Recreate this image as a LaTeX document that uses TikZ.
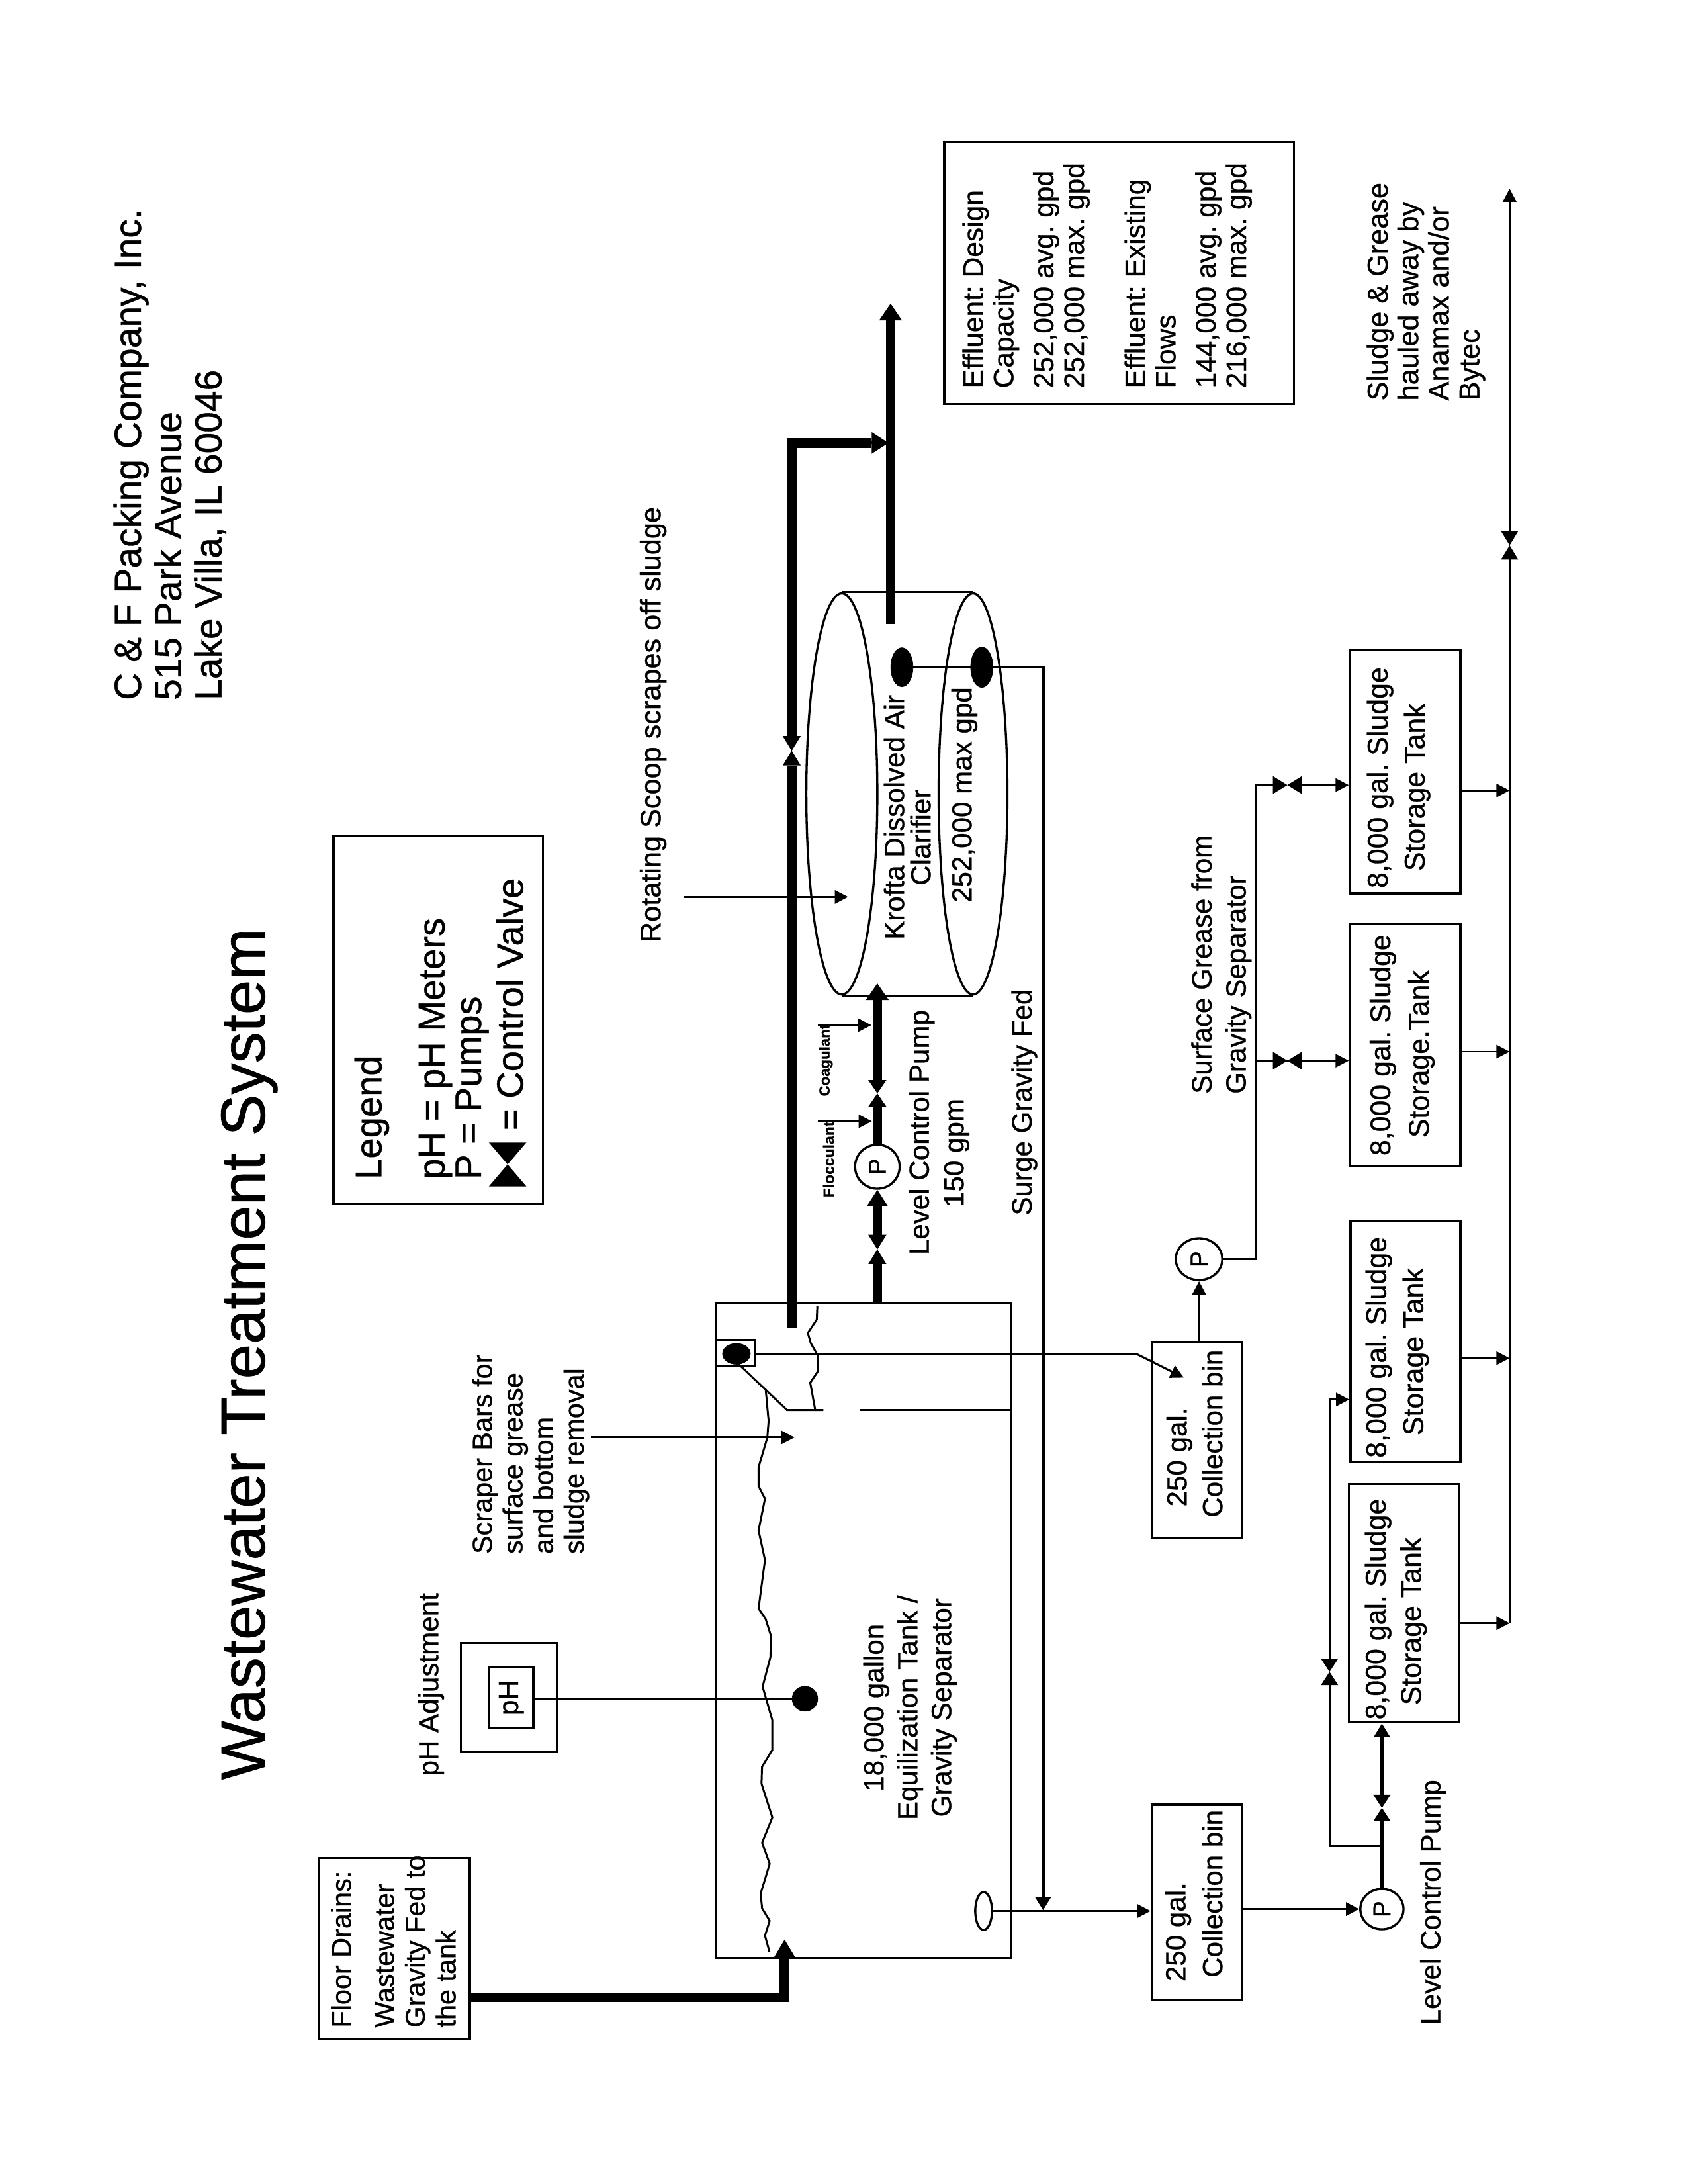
\documentclass[tikz,border=0pt]{standalone}
\usepackage{fontspec}
\setmainfont[FakeBold=0.7]{Liberation Sans}
\usetikzlibrary{arrows.meta,shapes.geometric}
\newcommand{\boxnode}[5]{\node[boxshape,minimum width={(#4-#2)*0.02cm},minimum height={(#5-#3)*0.02cm}] (#1) at ({(#2+#4)/2},{(#3+#5)/2}) {};}
\newcommand{\blobnode}[5]{\node[blobshape,minimum width={2*#4*0.02cm},minimum height={2*#5*0.02cm}] (#1) at (#2,#3) {};}
\newcommand{\ovalnode}[5]{\node[ovalshape,minimum width={2*#4*0.02cm},minimum height={2*#5*0.02cm}] (#1) at (#2,#3) {};}
\newcommand{\pumpnode}[5]{\node[ovalshape,fill=white,minimum width={2*#4*0.02cm},minimum height={2*#5*0.02cm},font=\fontsize{10}{12}\selectfont] (#1) at (#2,#3) {\rotatebox{90}{P}};}
\newcommand{\valveV}[4]{\fill[white] (#1-#3-1,#2-#4) rectangle (#1+#3+1,#2+#4);\fill[black] (#1-#3,#2-#4) -- (#1+#3,#2-#4) -- (#1-#3,#2+#4) -- (#1+#3,#2+#4) -- cycle;}
\newcommand{\valveH}[4]{\fill[black] (#1-#3,#2-#4) -- (#1-#3,#2+#4) -- (#1+#3,#2-#4) -- (#1+#3,#2+#4) -- cycle;}
\tikzset{
  boxshape/.style={draw,rectangle,line width=0.9pt,inner sep=0pt},
  blobshape/.style={draw,fill=black,ellipse,inner sep=0pt,line width=0.2pt},
  ovalshape/.style={draw,ellipse,inner sep=0pt,line width=0.9pt},
  lbl/.style={rotate=90,inner sep=0pt,anchor=west,align=left,font=\fontsize{11.4}{13}\selectfont},
  tlbl/.style={lbl,font=\fontsize{11.6}{13}\selectfont},
  clbl/.style={rotate=90,inner sep=0pt,anchor=center,align=center,font=\fontsize{11.4}{13.8}\selectfont},
  pipe/.style={line width=0.8pt,line join=miter},
  flow/.style={pipe,-{Triangle[length=1.9mm,width=1.9mm]}},
  heavy/.style={line width=4pt,line cap=butt,line join=miter}
}
\begin{document}
\frenchspacing
\begin{tikzpicture}[x=0.02cm,y=-0.02cm]
\useasboundingbox (0,0) rectangle (1211.7,1568);
\fill[white] (0,0) rectangle (1211.7,1568);

% titles
\node[lbl,font=\fontsize{15.4}{16.45}\selectfont] (company) at (122,503) {C \& F Packing Company, Inc.\\515 Park Avenue\\Lake Villa, IL 60046};
\node[rotate=90,inner sep=0pt,font=\fontsize{25.5}{28}\selectfont] (title) at (179,972) {Wastewater Treatment System};

% legend
\boxnode{legend}{239.5}{600}{390}{864}
\node[lbl,font=\fontsize{15.2}{17}\selectfont] (lg1) at (267,847) {Legend};
\node[lbl,font=\fontsize{15.2}{17}\selectfont] (lg2) at (312.7,847) {pH = pH Meters};
\node[lbl,font=\fontsize{15.2}{17}\selectfont] (lg3) at (339,847) {P = Pumps};
\node[lbl,font=\fontsize{15.2}{17}\selectfont] (lg4) at (366,812) {= Control Valve};
\valveV{364.5}{836}{13.4}{15.7}

% floor drains
\boxnode{floor}{229}{1334}{337.4}{1463.7}
\node[lbl,font=\fontsize{11.2}{12.6}\selectfont] (floortxt) at (282.5,1456) {Floor Drains:\\[5pt]Wastewater\\Gravity Fed to\\the tank};

% pH
\node[lbl] (phadj) at (309.5,1275.4) {pH Adjustment};
\boxnode{phout}{330.9}{1179.6}{399.7}{1257.9}
\node[boxshape,minimum width={31.5*0.02cm},minimum height={43.7*0.02cm},font=\fontsize{11.4}{13}\selectfont] (phin) at (367.2,1218.8) {\rotatebox{90}{pH}};
\blobnode{phdot}{578}{1219.6}{9.2}{9}

% scraper text
\node[lbl,font=\fontsize{11.2}{12.5}\selectfont] (scraper) at (381,1116) {Scraper Bars for\\surface grease\\and bottom\\sludge removal};
\coordinate (scrstart) at (424.5,1032);
\coordinate (scrend) at (570.5,1032);
\node[lbl,font=\fontsize{11.7}{13}\selectfont] (rotating) at (469,677) {Rotating Scoop scrapes off sludge};
\coordinate (scoopstart) at (491,644);
\coordinate (scoopend) at (609,644);

% tank
\boxnode{tank}{514}{935.2}{726}{1405.7}
\node[clbl] (tanktxt) at (653.5,1226) {18,000 gallon\\Equilization Tank /\\Gravity Separator};
\boxnode{scrapbox}{514}{962}{542}{980.6}
\blobnode{tankdot}{528.8}{972}{10}{7.5}
\ovalnode{outlet}{706.3}{1372}{6}{13.6}

% clarifier
\ovalnode{cla}{604.5}{570}{25.5}{144}
\ovalnode{clb}{698.7}{570}{24.7}{144}
\draw[pipe] (cla.north) -- (clb.north);
\draw[pipe] (cla.south) -- (clb.south);
\node[lbl] (kro1) at (642,675) {Krofta Dissolved Air};
\node[lbl] (kro2) at (661,636) {Clarifier};
\node[lbl] (kro3) at (692.5,648.4) {252,000 max gpd};
\blobnode{cldot1}{647.6}{479}{8}{14}
\blobnode{cldot2}{705}{479}{8}{14.5}

% clarifier feed
\pumpnode{pfeed}{630}{837.6}{16}{15.8}
\node[lbl] (lcp1) at (661.8,901.3) {Level Control Pump};
\node[lbl] (lcp2) at (687,867) {150 gpm};
\node[lbl] (surge) at (735.5,873) {Surge Gravity Fed};
\node[lbl,font=\fontsize{6}{7}\bfseries] (coag) at (593,787.4) {Coagulant};
\node[lbl,font=\fontsize{6.2}{7}\bfseries] (floc) at (595,860) {Flocculant};

% bins
\boxnode{bin1}{827}{963.3}{891.5}{1104}
\node[lbl] (bin1a) at (846.9,1082) {250 gal.};
\node[lbl] (bin1b) at (870.5,1089.7) {Collection bin};
\boxnode{bin2}{827}{1295.7}{892}{1436}
\node[lbl] (bin2a) at (846,1423) {250 gal.};
\node[lbl] (bin2b) at (870.5,1420) {Collection bin};
\pumpnode{pgrease}{861}{904}{16.7}{15}
\pumpnode{plow}{992.3}{1370.6}{15.5}{14.5}
\node[lbl] (lcp3) at (1029,1454) {Level Control Pump};
\node[lbl,font=\fontsize{11.4}{14}\selectfont] (sg) at (877,785.7) {Surface Grease from\\Gravity Separator};

% storage tanks
\boxnode{t1}{969.3}{466.4}{1048.7}{641.5}
\boxnode{t2}{969.3}{663}{1048.7}{837.2}
\boxnode{t3}{969.7}{876.3}{1048.7}{1049.4}
\boxnode{t4}{968.7}{1065.4}{1047.4}{1236.6}
\node[tlbl] (t1a) at (991,638) {8,000 gal. Sludge};
\node[tlbl] (t1b) at (1017.6,625.7) {Storage Tank};
\node[tlbl] (t2a) at (993,830) {8,000 gal. Sludge};
\node[tlbl] (t2b) at (1020.6,817.2) {Storage.Tank};
\node[tlbl] (t3a) at (990,1047) {8,000 gal. Sludge};
\node[tlbl] (t3b) at (1016.6,1031) {Storage Tank};
\node[tlbl] (t4a) at (989.6,1235) {8,000 gal. Sludge};
\node[tlbl] (t4b) at (1015,1224.5) {Storage Tank};

% effluent box and haul text
\boxnode{eff}{678}{102}{929}{290}
\node[lbl,font=\fontsize{11.5}{12.47}\selectfont] (efftxt) at (795,279) {Effluent: Design\\Capacity\\[3.9pt]252,000 avg. gpd\\252,000 max. gpd\\[12.5pt]Effluent: Existing\\Flows\\[3.9pt]144,000 avg. gpd\\216,000 max. gpd};
\node[lbl,font=\fontsize{11.7}{12.5}\selectfont] (haul) at (1024,288) {Sludge \& Grease\\hauled away by\\Anamax and/or\\Bytec};

% water surface
\draw[pipe,line join=round] (549.8,997.3) -- (551.9,1020) -- (551,1032.1) -- (544.7,1053.3) -- (544.7,1067) -- (549.3,1076) -- (544.7,1098.8) -- (549.3,1120) -- (544.7,1154.8) -- (549.8,1162.4) -- (553.6,1174.5) -- (553.2,1189.7) -- (547.6,1210.9) -- (554.6,1235.1) -- (554.6,1256.3) -- (547.2,1268.5) -- (546.8,1280.6) -- (554.6,1304.8) -- (547.2,1323) -- (552.7,1338.1) -- (546.2,1359.4) -- (547.2,1370) -- (552.7,1379) -- (549.3,1389.7) -- (552.5,1401.2);
\draw[pipe,line join=round] (586.9,937.7) -- (586.5,947.4) -- (580.1,957) -- (582.2,964.3) -- (587,972.8) -- (587.5,974.5) -- (587,985) -- (581.8,992.7) -- (585.4,1012.4);
% scraper and baffle
\draw[pipe] (530,979) -- (565.2,1012.4) -- (591.3,1012.4);
\draw[pipe] (617.6,1012.4) -- (tank.east |- 0,1012.4);

% connectors
\draw[heavy] (floor.east |- 0,1434) -| (563.4,1405);
\draw[-{Triangle[length=2.6mm,width=3mm]},line width=1pt] (563.4,1405) -- (563.4,1392.5);
\draw[flow] (scrstart) -- (scrend);
\draw[flow] (scoopstart) -- (scoopend);
\draw[pipe] (phin.east |- phdot) -- (phdot);
% bypass
\draw[heavy] (568.5,953) -- (568.5,318) -- (626,318);
\draw[-{Triangle[length=2.4mm,width=3mm]},line width=1pt] (626,318) -- (638,318);
\valveV{568.5}{539}{6.5}{10.6}
% effluent
\draw[heavy] (639.5,448) -- (639.5,230);
\draw[-{Triangle[length=2.4mm,width=3.2mm]},line width=1pt] (639.5,231) -- (639.5,218);
% feed
\draw[heavy] (tank.north -| pfeed) -- (630,866);
\draw[-{Triangle[length=2.4mm,width=3mm]},line width=1pt] (630,866) -- (pfeed.south);
\valveV{630}{897}{6.5}{10.5}
\draw[heavy] (pfeed.north) -- (630,718);
\draw[-{Triangle[length=2.4mm,width=3.2mm]},line width=1pt] (630,719) -- (630,706);
\valveV{630}{785}{6.5}{9.5}
\coordinate (coagstart) at (587.5,736);
\coordinate (coagend) at (625.7,736);
\coordinate (flocstart) at (587.5,805);
\coordinate (flocend) at (626,805);
\draw[flow] (coagstart) -- (coagend);
\draw[flow] (flocstart) -- (flocend);
% surge
\draw[pipe] (cldot1.east) -- (cldot2.west);
\draw[line width=1.2pt,-{Triangle[length=1.9mm,width=2.2mm]}] (cldot2.east) -- (749,479) -- (749,1371.5);
% grease line
\coordinate (bend) at (816,972);
\coordinate (binarrow) at (850,989);
\draw[flow,line join=round] (scrapbox.east |- tankdot) -- (bend) -- (binarrow);
\draw[flow] (bin1.north -| pgrease) -- (pgrease.south);
\draw[pipe] (pgrease.east) -- (901.4,904) -- (901.4,563.6) -- (914,563.6);
\draw[flow] (924.4,563.6) -- (t1.west |- 0,563.6);
\draw[flow] (901.4,761.5) -- (t2.west |- 0,761.5);
\valveH{924.4}{563.6}{10.4}{6.4}
\valveH{924.4}{761.5}{10.4}{6.4}
% bottom line
\draw[flow] (outlet.east) -- (bin2.west |- outlet);
\draw[flow] (bin2.east |- plow) -- (plow.west);
\draw[line width=1.2pt,-{Triangle[length=1.9mm,width=2.2mm]}] (plow.north) -- (plow |- t4.south);
\valveV{992.3}{1298}{6.2}{9.5}
\draw[flow] (992.3,1325.4) -- (954.7,1325.4) -- (954.7,1004.8) -- (t3.west |- 0,1004.8);
\valveV{954.7}{1200.3}{6.2}{9.5}
% header
\coordinate (hdrtop) at (1084,135.4);
\draw[flow,line width=1pt] (1084,1165.4) -- (hdrtop);
\valveV{1084}{391.5}{6.2}{10.2}
\draw[flow] (t4.east |- 0,1165.4) -- (1084,1165.4);
\draw[flow] (t3.east |- 0,975.1) -- (1084,975.1);
\draw[flow] (t2.east |- 0,755) -- (1084,755);
\draw[flow] (t1.east |- 0,567.5) -- (1084,567.5);
\end{tikzpicture}
\end{document}
